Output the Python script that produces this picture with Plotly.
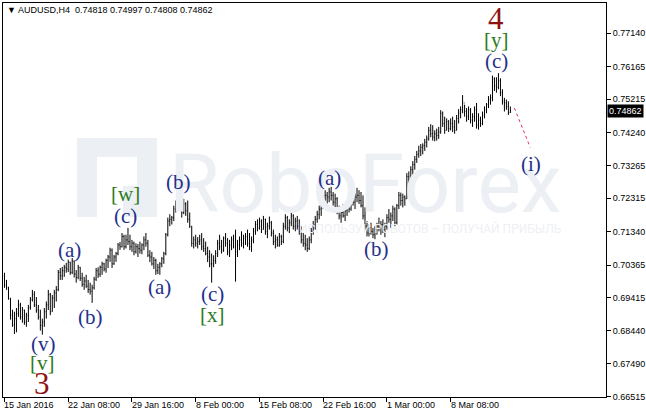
import plotly.graph_objects as go

# ---------------- data (AUDUSD H4) ----------------
highs = [0.7014,0.6993,0.6973,0.6940,0.6906,0.6900,0.6911,0.6935,0.6926,0.6914,
0.6906,0.6897,0.6920,0.6943,0.6964,0.6960,0.6943,0.6920,0.6906,0.6880,
0.6911,0.6930,0.6964,0.6955,0.6949,0.6964,0.6975,0.7022,0.7028,0.7031,
0.7037,0.7043,0.7052,0.7046,0.7057,0.7050,0.7022,0.7037,0.7031,0.7014,
0.7002,0.7008,0.6993,0.6985,0.6979,0.7002,0.7028,0.7030,0.7035,0.7046,
0.7043,0.7055,0.7066,0.7087,0.7085,0.7066,0.7075,0.7101,0.7104,0.7130,
0.7125,0.7125,0.7145,0.7125,0.7110,0.7105,0.7100,0.7098,0.7105,0.7100,
0.7120,0.7130,0.7110,0.7080,0.7075,0.7060,0.7055,0.7040,0.7045,0.7060,
0.7075,0.7130,0.7175,0.7185,0.7180,0.7210,0.7225,0.7250,0.7240,0.7220,
0.7230,0.7220,0.7225,0.7190,0.7150,0.7120,0.7125,0.7118,0.7125,0.7130,
0.7115,0.7105,0.7090,0.7080,0.7070,0.7065,0.7080,0.7110,0.7125,0.7110,
0.7120,0.7130,0.7115,0.7110,0.7120,0.7125,0.7140,0.7110,0.7120,0.7135,
0.7125,0.7130,0.7140,0.7130,0.7120,0.7145,0.7165,0.7170,0.7175,0.7170,
0.7180,0.7172,0.7160,0.7178,0.7165,0.7140,0.7125,0.7120,0.7130,0.7125,
0.7160,0.7185,0.7180,0.7170,0.7190,0.7185,0.7175,0.7180,0.7170,0.7150,
0.7130,0.7125,0.7115,0.7120,0.7145,0.7165,0.7180,0.7195,0.7210,0.7225,
0.7240,0.7255,0.7250,0.7262,0.7265,0.7250,0.7245,0.7235,0.7210,0.7200,
0.7215,0.7205,0.7225,0.7230,0.7240,0.7250,0.7245,0.7262,0.7255,0.7250,
0.7240,0.7205,0.7165,0.7155,0.7160,0.7145,0.7150,0.7160,0.7175,0.7165,
0.7170,0.7160,0.7185,0.7200,0.7190,0.7210,0.7205,0.7215,0.7250,0.7248,
0.7245,0.7240,0.7305,0.7310,0.7325,0.7340,0.7355,0.7370,0.7385,0.7390,
0.7392,0.7405,0.7415,0.7440,0.7448,0.7445,0.7430,0.7435,0.7440,0.7489,
0.7485,0.7470,0.7465,0.7460,0.7465,0.7470,0.7460,0.7475,0.7492,0.7500,
0.7533,0.7505,0.7495,0.7500,0.7495,0.7480,0.7500,0.7510,0.7480,0.7470,
0.7485,0.7500,0.7510,0.7530,0.7535,0.7590,0.7585,0.7585,0.7597,0.7582,
0.7550,0.7525,0.7520,0.7515,0.74997]

lows = [0.6970,0.6964,0.6935,0.6877,0.6856,0.6835,0.6840,0.6885,0.6877,0.6868,
0.6862,0.6856,0.6870,0.6906,0.6930,0.6914,0.6897,0.6877,0.6845,0.6833,
0.6856,0.6880,0.6905,0.6890,0.6900,0.6911,0.6930,0.6960,0.6993,0.6993,
0.7002,0.7014,0.7016,0.7008,0.7010,0.7000,0.6985,0.6995,0.6990,0.6973,
0.6964,0.6970,0.6955,0.6950,0.6926,0.6965,0.6990,0.6999,0.7002,0.7008,
0.7018,0.7014,0.7028,0.7046,0.7028,0.7037,0.7046,0.7065,0.7081,0.7088,
0.7081,0.7085,0.7095,0.7080,0.7075,0.7065,0.7070,0.7060,0.7070,0.7068,
0.7080,0.7090,0.7060,0.7045,0.7035,0.7025,0.7008,0.7010,0.7008,0.7030,
0.7040,0.7065,0.7120,0.7150,0.7155,0.7165,0.7190,0.7210,0.7200,0.7175,
0.7185,0.7180,0.7160,0.7145,0.7090,0.7085,0.7090,0.7085,0.7095,0.7080,
0.7075,0.7065,0.7045,0.7030,0.6985,0.7030,0.7040,0.7060,0.7080,0.7070,
0.7075,0.7090,0.7065,0.7060,0.7080,0.7085,0.6988,0.7060,0.7080,0.7090,
0.7085,0.7095,0.7090,0.7080,0.7075,0.7100,0.7125,0.7135,0.7140,0.7130,
0.7140,0.7125,0.7115,0.7140,0.7120,0.7095,0.7085,0.7090,0.7090,0.7095,
0.7100,0.7140,0.7135,0.7130,0.7150,0.7140,0.7135,0.7140,0.7125,0.7100,
0.7090,0.7080,0.7075,0.7080,0.7100,0.7125,0.7140,0.7160,0.7170,0.7180,
0.7200,0.7210,0.7215,0.7220,0.7225,0.7210,0.7200,0.7185,0.7170,0.7160,
0.7175,0.7165,0.7180,0.7190,0.7195,0.7210,0.7200,0.7220,0.7215,0.7205,
0.7170,0.7140,0.7120,0.7120,0.7125,0.7115,0.7112,0.7125,0.7135,0.7125,
0.7130,0.7118,0.7140,0.7160,0.7145,0.7165,0.7150,0.7155,0.7200,0.7210,
0.7205,0.7210,0.7230,0.7270,0.7280,0.7300,0.7315,0.7335,0.7350,0.7355,
0.7360,0.7370,0.7380,0.7400,0.7410,0.7400,0.7398,0.7400,0.7405,0.7420,
0.7440,0.7420,0.7430,0.7425,0.7430,0.7425,0.7420,0.7430,0.7450,0.7465,
0.7480,0.7470,0.7455,0.7460,0.7450,0.7440,0.7455,0.7435,0.7432,0.7440,
0.7445,0.7465,0.7480,0.7495,0.7505,0.7515,0.7545,0.7540,0.7550,0.7530,
0.7505,0.7485,0.7490,0.7475,0.74808]

closes = [0.6978,0.6970,0.6940,0.6890,0.6862,0.6880,0.6895,0.6920,0.6885,0.6905,
0.6870,0.6890,0.6912,0.6935,0.6950,0.6920,0.6905,0.6885,0.6860,0.6870,
0.6900,0.6920,0.6950,0.6900,0.6940,0.6955,0.6965,0.7015,0.7005,0.7020,
0.7030,0.7025,0.7045,0.7015,0.7048,0.7010,0.7000,0.7030,0.6998,0.6980,
0.6990,0.6975,0.6965,0.6960,0.6970,0.6995,0.7020,0.7010,0.7030,0.7040,
0.7025,0.7050,0.7060,0.7080,0.7040,0.7060,0.7070,0.7095,0.7090,0.7120,
0.7090,0.7110,0.7105,0.7090,0.7100,0.7075,0.7090,0.7085,0.7080,0.7095,
0.7110,0.7100,0.7065,0.7060,0.7040,0.7050,0.7020,0.7030,0.7040,0.7055,
0.7070,0.7125,0.7165,0.7170,0.7175,0.7200,0.7215,0.7235,0.7210,0.7190,
0.7215,0.7195,0.7170,0.7150,0.7100,0.7110,0.7100,0.7105,0.7110,0.7090,
0.7085,0.7070,0.7060,0.7040,0.7040,0.7050,0.7070,0.7100,0.7090,0.7080,
0.7115,0.7100,0.7075,0.7095,0.7110,0.7090,0.7075,0.7095,0.7110,0.7100,
0.7115,0.7120,0.7100,0.7090,0.7110,0.7135,0.7155,0.7145,0.7165,0.7140,
0.7170,0.7135,0.7150,0.7160,0.7130,0.7105,0.7110,0.7095,0.7120,0.7105,
0.7150,0.7175,0.7145,0.7160,0.7180,0.7150,0.7165,0.7150,0.7135,0.7110,
0.7100,0.7095,0.7085,0.7110,0.7135,0.7155,0.7170,0.7185,0.7200,0.7215,
0.7230,0.7240,0.7235,0.7250,0.7240,0.7220,0.7230,0.7195,0.7180,0.7190,
0.7180,0.7195,0.7215,0.7200,0.7230,0.7220,0.7235,0.7240,0.7225,0.7210,
0.7180,0.7150,0.7130,0.7145,0.7135,0.7125,0.7140,0.7150,0.7145,0.7155,
0.7140,0.7150,0.7175,0.7170,0.7180,0.7200,0.7160,0.7210,0.7240,0.7225,
0.7235,0.7230,0.7295,0.7285,0.7315,0.7330,0.7345,0.7360,0.7370,0.7380,
0.7385,0.7395,0.7405,0.7430,0.7420,0.7410,0.7420,0.7415,0.7425,0.7480,
0.7450,0.7430,0.7455,0.7435,0.7450,0.7440,0.7430,0.7465,0.7480,0.7490,
0.7510,0.7485,0.7470,0.7490,0.7460,0.7470,0.7490,0.7445,0.7460,0.7450,
0.7475,0.7490,0.7505,0.7520,0.7525,0.7580,0.7560,0.7555,0.7575,0.7540,
0.7515,0.7510,0.7500,0.7482,0.74862]

opens = [0.7005,0.6978,0.6970,0.6940,0.6890,0.6862,0.6880,0.6895,0.6920,0.6885,
0.6905,0.6870,0.6890,0.6912,0.6935,0.6950,0.6920,0.6905,0.6885,0.6860,
0.6870,0.6900,0.6920,0.6950,0.6900,0.6940,0.6955,0.6965,0.7015,0.7005,
0.7020,0.7030,0.7025,0.7045,0.7015,0.7048,0.7010,0.7000,0.7030,0.6998,
0.6980,0.6990,0.6975,0.6965,0.6960,0.6970,0.6995,0.7020,0.7010,0.7030,
0.7040,0.7025,0.7050,0.7060,0.7080,0.7040,0.7060,0.7070,0.7095,0.7090,
0.7120,0.7090,0.7110,0.7105,0.7090,0.7100,0.7075,0.7090,0.7085,0.7080,
0.7095,0.7110,0.7100,0.7065,0.7060,0.7040,0.7050,0.7020,0.7030,0.7040,
0.7055,0.7070,0.7125,0.7165,0.7170,0.7175,0.7200,0.7215,0.7235,0.7210,
0.7190,0.7215,0.7195,0.7170,0.7150,0.7100,0.7110,0.7100,0.7105,0.7110,
0.7090,0.7085,0.7070,0.7060,0.7040,0.7040,0.7050,0.7070,0.7100,0.7090,
0.7080,0.7115,0.7100,0.7075,0.7095,0.7110,0.7090,0.7075,0.7095,0.7110,
0.7100,0.7115,0.7120,0.7100,0.7090,0.7110,0.7135,0.7155,0.7145,0.7165,
0.7140,0.7170,0.7135,0.7150,0.7160,0.7130,0.7105,0.7110,0.7095,0.7120,
0.7105,0.7150,0.7175,0.7145,0.7160,0.7180,0.7150,0.7165,0.7150,0.7135,
0.7110,0.7100,0.7095,0.7085,0.7110,0.7135,0.7155,0.7170,0.7185,0.7200,
0.7215,0.7230,0.7240,0.7235,0.7250,0.7240,0.7220,0.7230,0.7195,0.7180,
0.7190,0.7180,0.7195,0.7215,0.7200,0.7230,0.7220,0.7235,0.7240,0.7225,
0.7210,0.7180,0.7150,0.7130,0.7145,0.7135,0.7125,0.7140,0.7150,0.7145,
0.7155,0.7140,0.7150,0.7175,0.7170,0.7180,0.7200,0.7160,0.7210,0.7240,
0.7225,0.7235,0.7230,0.7295,0.7285,0.7315,0.7330,0.7345,0.7360,0.7370,
0.7380,0.7385,0.7395,0.7405,0.7430,0.7420,0.7410,0.7420,0.7415,0.7425,
0.7480,0.7450,0.7430,0.7455,0.7435,0.7450,0.7440,0.7430,0.7465,0.7480,
0.7490,0.7510,0.7485,0.7470,0.7490,0.7460,0.7470,0.7490,0.7445,0.7460,
0.7450,0.7475,0.7490,0.7505,0.7520,0.7525,0.7580,0.7560,0.7555,0.7575,
0.7540,0.7515,0.7510,0.7500,0.74818]

# time-axis labels, one every 32 H4 bars
time_labels = ["15 Jan 2016", "22 Jan 08:00", "29 Jan 16:00", "8 Feb 00:00",
               "15 Feb 08:00", "22 Feb 16:00", "1 Mar 00:00", "8 Mar 08:00"]
bars_per_label = 32

price_labels = ["0.77140", "0.76165", "0.75215", "0.74240", "0.73265", "0.72315",
                "0.71340", "0.70365", "0.69415", "0.68440", "0.67490", "0.66515"]
last_price = 0.74862
header = "AUDUSD,H4  0.74818 0.74997 0.74808 0.74862"

# projected wave (i)
proj_bar = [256, 264]
proj_price = [0.7495, 0.7380]

# wave labels: text, bar index, price, kind
wave_text  = ["3", "[v]", "(v)", "(a)", "(b)", "(c)", "[w]", "(a)", "(b)", "(c)", "[x]",
              "(a)", "(b)", "(c)", "[y]", "4", "(i)"]
wave_bar   = [18.9, 18.9, 19.4, 32.5, 43.0, 60.6, 60.6, 77.8, 87.3, 104.4, 104.4,
              163.3, 187.0, 246.8, 246.8, 246.8, 264.5]
wave_price = [0.6690, 0.6751, 0.6807, 0.7081, 0.6885, 0.7180, 0.7244, 0.6973, 0.7279,
              0.6952, 0.6891, 0.7291, 0.7084, 0.7632, 0.7694, 0.7758, 0.7332]
wave_kind  = ["major", "inter", "minor", "minor", "minor", "minor", "inter", "minor", "minor",
              "minor", "inter", "minor", "minor", "minor", "inter", "major", "minor"]

watermark = "RoboForex"
watermark_sub = "ИСПОЛЬЗУЙ РОБОТОВ – ПОЛУЧАЙ ПРИБЫЛЬ"

# ---------------- figure ----------------
W, H = 646, 414
L, R, T, B = 3, 40, 3, 17
pw, ph = W - L - R, H - T - B

def px(x):
    return (x - L) / pw

def py(y):
    return (H - B - y) / ph

idx = list(range(len(closes)))

fig = go.Figure()
fig.add_trace(go.Ohlc(
    x=idx, open=opens, high=highs, low=lows, close=closes,
    increasing=dict(line=dict(color="black", width=1)),
    decreasing=dict(line=dict(color="black", width=1)),
    tickwidth=0.3, hoverinfo="skip", showlegend=False))

fig.add_trace(go.Scatter(
    x=proj_bar, y=proj_price, mode="lines",
    line=dict(color="#e8305a", width=1, dash="dot"),
    hoverinfo="skip", showlegend=False))

styles = {
    "minor": dict(color="#24308c", size=21),
    "inter": dict(color="#2d7a22", size=21),
    "major": dict(color="#8e1212", size=31),
}

WM = "#eceff3"
shapes = []
# watermark logo (stylised R block)
for (x0, y0, x1, y1) in [(77, 138, 97, 217), (77, 138, 157, 157),
                         (137, 138, 157, 186), (123, 186, 157, 217)]:
    shapes.append(dict(type="rect", xref="paper", yref="paper",
                       x0=px(x0), x1=px(x1), y0=py(y1), y1=py(y0),
                       fillcolor=WM, line=dict(width=0), layer="below"))

ann = []
ann.append(dict(x=px(365), y=py(184), xref="paper", yref="paper",
                xanchor="center", yanchor="middle",
                text=watermark, showarrow=False,
                font=dict(family="Roboto", size=82, color=WM)))
ann.append(dict(x=px(430), y=py(228), xref="paper", yref="paper",
                xanchor="center", yanchor="middle",
                text=watermark_sub, showarrow=False,
                font=dict(family="Roboto", size=12, color="#eef0f4")))

for t, b, p, k in zip(wave_text, wave_bar, wave_price, wave_kind):
    st = styles[k]
    ann.append(dict(x=b, y=p, xref="x", yref="y", text=t, showarrow=False,
                    xanchor="center", yanchor="middle",
                    font=dict(family="Liberation Serif", size=st["size"], color=st["color"])))

# header
ann.append(dict(x=px(5), y=py(10), xref="paper", yref="paper",
                xanchor="left", yanchor="middle",
                text="▼ " + header, showarrow=False,
                font=dict(family="Liberation Sans", size=9, color="black")))

# time labels
for k, lab in enumerate(time_labels):
    ann.append(dict(x=k * bars_per_label, y=py(405), xref="x", yref="paper",
                    xanchor="left", yanchor="middle", xshift=-2, text=lab, showarrow=False,
                    font=dict(family="Liberation Sans", size=9, color="black")))

# current price box
ann.append(dict(x=1, y=last_price, xref="paper", yref="y",
                xanchor="left", yanchor="middle", xshift=1,
                text="%.5f" % last_price, showarrow=False, bgcolor="black", borderpad=1,
                font=dict(family="Liberation Sans", size=9, color="white")))

fig.update_layout(
    template="none",
    width=W, height=H,
    margin=dict(l=L, r=R, t=T, b=B),
    paper_bgcolor="white", plot_bgcolor="white",
    annotations=ann, shapes=shapes,
    xaxis=dict(range=[-0.75, 302], showgrid=False, zeroline=False, automargin=False,
               showline=True, linecolor="black", linewidth=1, mirror=True,
               tickmode="array", tickvals=[k * bars_per_label for k in range(len(time_labels))],
               ticktext=[""] * len(time_labels), ticks="outside", ticklen=4,
               tickcolor="black", rangeslider=dict(visible=False), fixedrange=True),
    yaxis=dict(range=[0.6651, 0.7802], side="right", showgrid=False, zeroline=False,
               automargin=False,
               showline=True, linecolor="black", linewidth=1, mirror=True,
               tickmode="array", tickvals=[float(v) for v in price_labels],
               ticktext=price_labels, ticks="outside", ticklen=4, tickcolor="black",
               tickfont=dict(family="Liberation Sans", size=9, color="black"),
               fixedrange=True),
)

fig.write_html("out.html", config={"displayModeBar": False},
               post_script="document.body.style.margin='0px';document.body.style.padding='0px';")
